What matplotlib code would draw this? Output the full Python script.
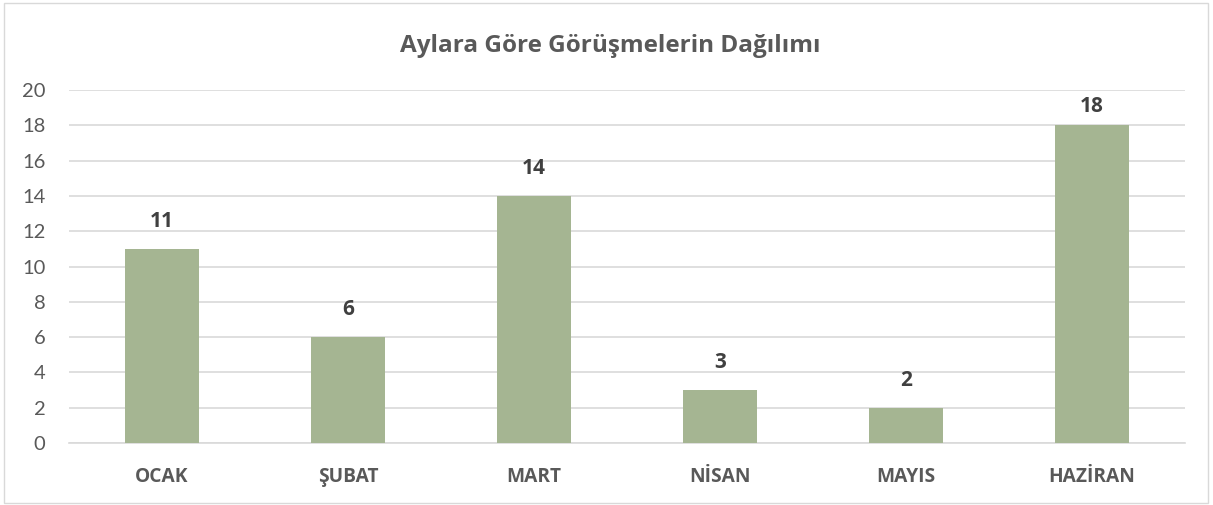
import matplotlib
matplotlib.use("Agg")
import matplotlib.pyplot as plt
from matplotlib.patches import Rectangle

categories = ["OCAK", "ŞUBAT", "MART", "NİSAN", "MAYIS", "HAZİRAN"]
values = [11, 6, 14, 3, 2, 18]
yticks = [0, 2, 4, 6, 8, 10, 12, 14, 16, 18, 20]
title = "Aylara Göre Görüşmelerin Dağılımı"

plt.rcParams['font.family'] = ['Lato', 'DejaVu Sans']
BOLD = ['Open Sans', 'DejaVu Sans']

fig = plt.figure(figsize=(12.13, 5.05), dpi=100)
fig.patches.append(Rectangle((4/1213, 2/505), 1204/1213, 500/505, transform=fig.transFigure,
                             fill=False, edgecolor="#D9D9D9", linewidth=1))
ax = fig.add_axes([69/1213, 62/505, 1116/1213, 353/505])

x = list(range(len(categories)))
ax.bar(x, values, width=0.4, color="#A5B592", zorder=3)
ax.set_xlim(-0.5, len(categories) - 0.5)
ax.set_ylim(0, 20)
ax.set_yticks(yticks)
ax.set_yticklabels([str(t) for t in yticks], fontsize=14.5, color="#595959")
ax.set_xticks(x)
ax.set_xticklabels(categories, fontsize=13.8, fontweight="bold", color="#595959", family=BOLD)
ax.tick_params(axis="both", length=0)
ax.tick_params(axis="y", pad=17)
ax.tick_params(axis="x", pad=17)
ax.grid(axis="y", color="#D9D9D9", linewidth=1.2, zorder=0)
for s in ["top", "right", "left"]:
    ax.spines[s].set_visible(False)
ax.spines["bottom"].set_color("#D9D9D9")
ax.spines["bottom"].set_linewidth(1.2)

# labels sit outside the bar end, but are kept inside the plot area (as Excel does)
for xi, v in zip(x, values):
    ly = min(v + 1.55, 19.05)
    ax.text(xi, ly, str(v), ha="center", va="center", fontsize=15, fontweight="bold",
            color="#404040", family=BOLD)

fig.text(610/1213, 1 - 46/505, title, ha="center", va="center", fontsize=17.5,
         fontweight="bold", color="#595959", family=BOLD)

fig.savefig("out.png", dpi=100)
